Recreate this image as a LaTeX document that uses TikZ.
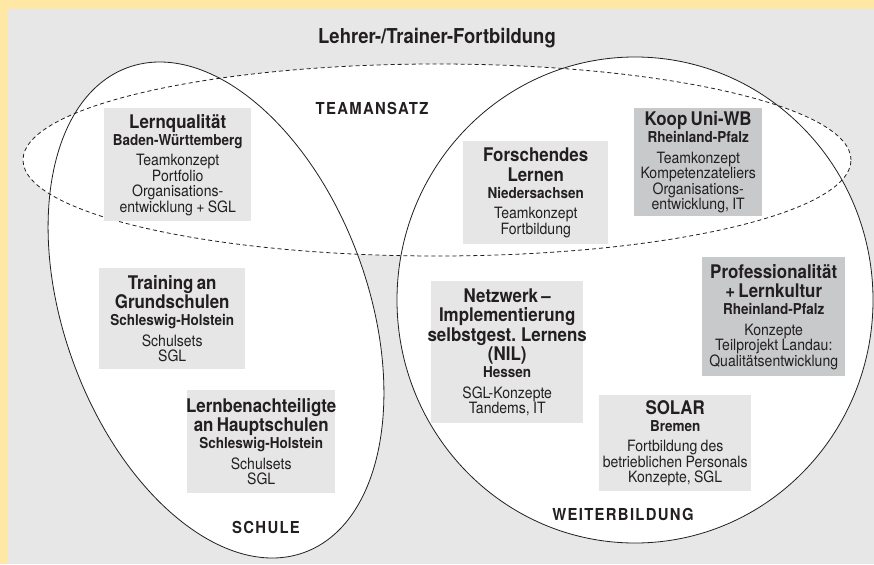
\documentclass[tikz,border=0pt]{standalone}
\usepackage{fontspec}
\setmainfont{TeX Gyre Heros}[FakeStretch=0.9]
\newfontfamily\spacedfont{TeX Gyre Heros}[FakeStretch=0.9, LetterSpace=8]
\definecolor{bgyellow}{HTML}{FFE8A6}
\definecolor{bggrey}{HTML}{E6E7E6}
\definecolor{boxgrey}{HTML}{E5E6E5}
\definecolor{darkgrey}{HTML}{C8C9CA}
\definecolor{linecol}{HTML}{231F20}
\newcommand\boxtitle[1]{\fontsize{18.8}{19.5}\selectfont\bfseries #1\par}
\newcommand\boxsub[1]{\fontsize{15}{17}\selectfont\bfseries #1\par}
\newcommand\boxbody[1]{\vskip5pt\fontsize{15.6}{15.5}\selectfont\mdseries #1\par}
\newcommand\wideline[1]{\makebox[0pt][c]{#1}}
\begin{document}
\begin{tikzpicture}[x=1pt,y=-1pt,
  lbox/.style={fill=boxgrey, inner sep=0pt, align=center, anchor=north west, text=linecol},
  dbox/.style={lbox, fill=darkgrey},
  outline/.style={draw=linecol, line width=0.8pt},
  dashline/.style={draw=linecol, line width=0.8pt, dash pattern=on 4pt off 3pt},
  arealabel/.style={font=\spacedfont\bfseries\fontsize{16.5}{18}\selectfont, text=linecol, inner sep=0pt}]
\useasboundingbox (0,0) rectangle (874,564);
\fill[bgyellow] (0,0) rectangle (874,564);
\fill[bggrey] (8,9) rectangle (874,564);
\node[font=\bfseries\fontsize{20.5}{22}\selectfont, text=linecol, inner sep=0pt] (title) at (437,38) {Lehrer-/Trainer-Fortbildung};
% white fills
\fill[white, rotate around={20:(216,310)}] (216,310) ellipse [x radius=152pt, y radius=258pt];
\fill[white] (635,300) ellipse [x radius=238pt, y radius=243pt];
\fill[white] (437,160) ellipse [x radius=414pt, y radius=96pt];
% outlines
\path[outline, rotate around={20:(216,310)}] (216,310) ellipse [x radius=152pt, y radius=258pt];
\path[outline] (635,300) ellipse [x radius=238pt, y radius=243pt];
\path[dashline] (437,160) ellipse [x radius=414pt, y radius=96pt];
% area labels
\node[arealabel] (team) at (372,108) {TEAMANSATZ};
\node[arealabel] (schule) at (266,527) {SCHULE};
\node[arealabel] (weiter) at (623,514) {WEITERBILDUNG};
% boxes
\node[lbox, text width=147pt, minimum height=113pt] (lq) at (104,108)
  {\boxtitle{Lernqualität}\boxsub{Baden-Württemberg}\boxbody{Teamkonzept\\Portfolio\\Organisations-\\entwicklung + SGL}};
\node[lbox, text width=146pt, minimum height=101pt] (tg) at (99,268)
  {\boxtitle{Training an\\Grundschulen}\boxsub{Schleswig-Holstein}\boxbody{Schulsets\\SGL}};
\node[lbox, text width=148pt, minimum height=103pt] (lh) at (187,390)
  {\boxtitle{\wideline{Lernbenachteiligte}\\an Hauptschulen}\boxsub{Schleswig-Holstein}\boxbody{Schulsets\\SGL}};
\node[lbox, text width=145pt, minimum height=103pt] (fl) at (463,141)
  {\boxtitle{Forschendes\\Lernen}\boxsub{Niedersachsen}\boxbody{Teamkonzept\\Fortbildung}};
\node[dbox, text width=128pt, minimum height=108pt] (koop) at (634,108)
  {\boxtitle{Koop Uni-WB}\boxsub{Rheinland-Pfalz}\boxbody{Teamkonzept\\\wideline{Kompetenzateliers}\\Organisations-\\entwicklung, IT}};
\node[lbox, text width=152pt, minimum height=142pt] (nil) at (431,281)
  {\boxtitle{Netzwerk –\\Implementierung\\\wideline{selbstgest. Lernens}\\(NIL)}\boxsub{Hessen}\boxbody{SGL-Konzepte\\Tandems, IT}};
\node[dbox, text width=143pt, minimum height=119pt] (prof) at (702,257)
  {\boxtitle{Professionalität\\+ Lernkultur}\boxsub{Rheinland-Pfalz}\boxbody{Konzepte\\Teilprojekt Landau:\\\wideline{Qualitätsentwicklung}}};
\node[lbox, text width=152pt, minimum height=96pt] (solar) at (599,395)
  {\boxtitle{SOLAR}\boxsub{Bremen}\boxbody{Fortbildung des\\\wideline{betrieblichen Personals}\\Konzepte, SGL}};
\end{tikzpicture}
\end{document}
